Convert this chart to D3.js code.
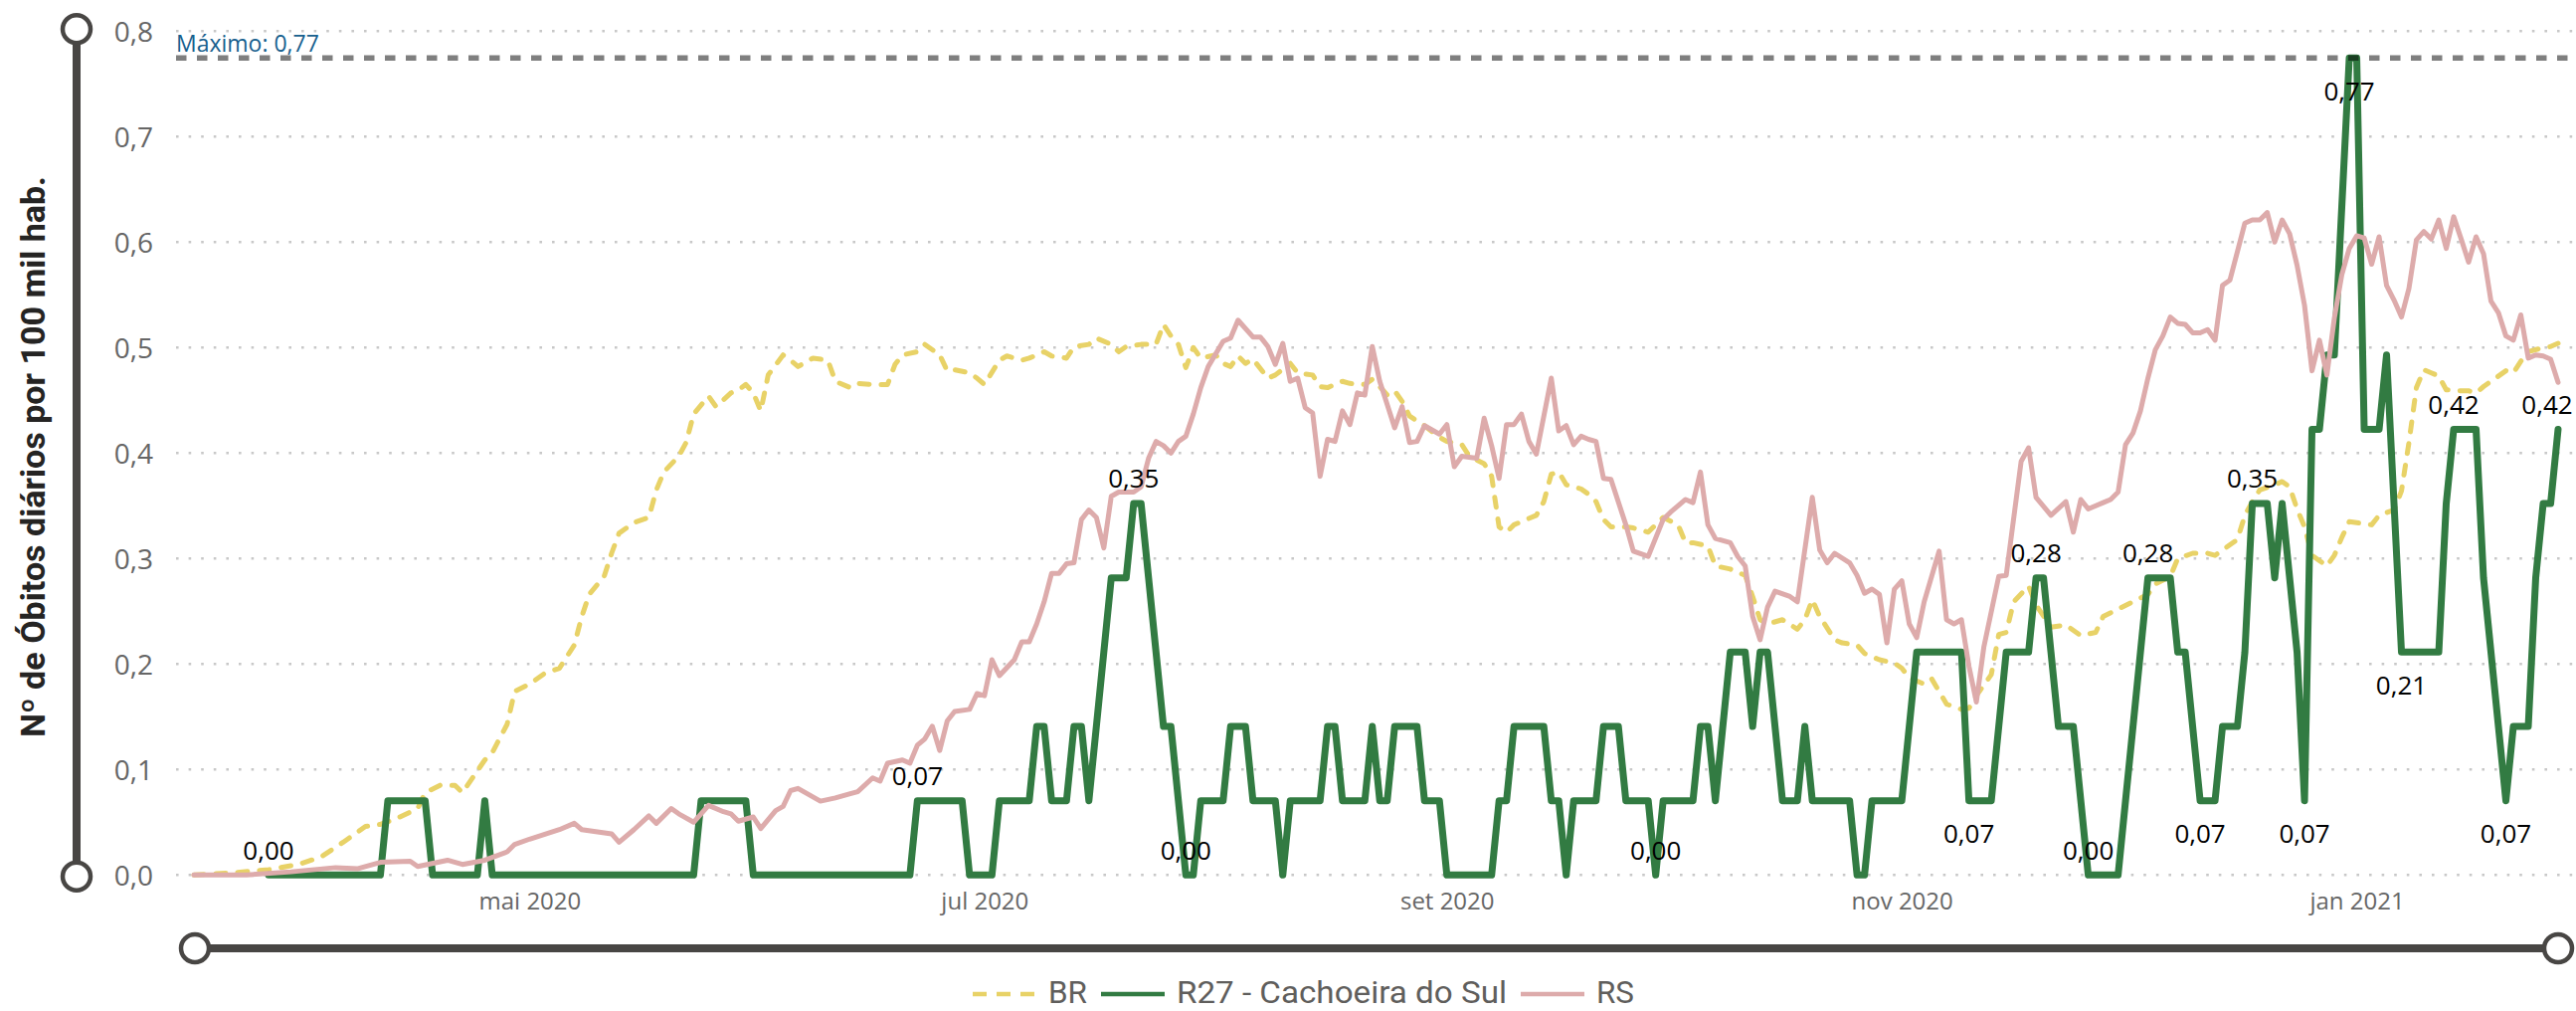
<!DOCTYPE html>
<html><head><meta charset="utf-8">
<script src="https://cdn.jsdelivr.net/npm/d3@7"></script>
<style>
html,body{margin:0;padding:0;background:#fff;}
svg{display:block;}
</style></head><body>
<svg id="chart" width="2590" height="1016"></svg>
<script>
// ---------------- DATA ----------------
const startDay = "2020-03-17";
const endDay = "2021-01-28";
const seriesNames = ["BR", "R27 - Cachoeira do Sul", "RS"];
const yTicks = [0, 0.1, 0.2, 0.3, 0.4, 0.5, 0.6, 0.7, 0.8];
const xTickDates = ["2020-05-01", "2020-07-01", "2020-09-01", "2020-11-01", "2021-01-01"];
const xTickLabels = ["mai 2020", "jul 2020", "set 2020", "nov 2020", "jan 2021"];
const yAxisTitle = "Nº de Óbitos diários por 100 mil hab.";
const maxLabelPrefix = "Máximo: ";

// R27 - Cachoeira do Sul: daily values, first value is day 10 after startDay
const r27FirstDay = 10;
const r27Values = [
0,0,0,0,0,0,0,0,0,0,
0,0,0,0,0,0,.0704,.0704,.0704,.0704,
.0704,.0704,0,0,0,0,0,0,0,.0704,
0,0,0,0,0,0,0,0,0,0,
0,0,0,0,0,0,0,0,0,0,
0,0,0,0,0,0,0,0,.0704,.0704,
.0704,.0704,.0704,.0704,.0704,0,0,0,0,0,
0,0,0,0,0,0,0,0,0,0,
0,0,0,0,0,0,0,.0704,.0704,.0704,
.0704,.0704,.0704,.0704,0,0,0,0,.0704,.0704,
.0704,.0704,.0704,.1408,.1408,.0704,.0704,.0704,.1408,.1408,
.0704,.1408,.2113,.2817,.2817,.2817,.3521,.3521,.2817,.2113,
.1408,.1408,.0704,0,0,.0704,.0704,.0704,.0704,.1408,
.1408,.1408,.0704,.0704,.0704,.0704,0,.0704,.0704,.0704,
.0704,.0704,.1408,.1408,.0704,.0704,.0704,.0704,.1408,.0704,
.0704,.1408,.1408,.1408,.1408,.0704,.0704,.0704,0,0,
0,0,0,0,0,.0704,.0704,.1408,.1408,.1408,
.1408,.1408,.0704,.0704,0,.0704,.0704,.0704,.0704,.1408,
.1408,.1408,.0704,.0704,.0704,.0704,0,.0704,.0704,.0704,
.0704,.0704,.1408,.1408,.0704,.1408,.2113,.2113,.2113,.1408,
.2113,.2113,.1408,.0704,.0704,.0704,.1408,.0704,.0704,.0704,
.0704,.0704,.0704,0,0,.0704,.0704,.0704,.0704,.0704,
.1408,.2113,.2113,.2113,.2113,.2113,.2113,.2113,.0704,.0704,
.0704,.0704,.1408,.2113,.2113,.2113,.2113,.2817,.2817,.2113,
.1408,.1408,.1408,.0704,0,0,0,0,0,.0704,
.1408,.2113,.2817,.2817,.2817,.2817,.2113,.2113,.1408,.0704,
.0704,.0704,.1408,.1408,.1408,.2113,.3521,.3521,.3521,.2817,
.3521,.2817,.2113,.0704,.4225,.4225,.493,.493,.6338,.7746,
.7746,.4225,.4225,.4225,.493,.3521,.2113,.2113,.2113,.2113,
.2113,.2113,.3521,.4225,.4225,.4225,.4225,.2817,.2113,.1408,
.0704,.1408,.1408,.1408,.2817,.3521,.3521,.4225
];

// RS: [day after startDay, value]
const rsPoints = [
[0,0],[7,0],[13,.003],[19,.007],[22,.006],[25,.012],[29,.013],[30,.008],[34,.014],[36,.010],
[39,.014],[42,.022],[43,.029],[45,.034],[49,.043],[51,.049],[52,.043],[56,.039],[57,.031],[59,.043],
[61,.056],[62,.049],[64,.063],[65,.058],[67,.050],[69,.066],[71,.060],[72,.058],[73,.051],[75,.055],
[76,.044],[78,.061],[79,.065],[80,.080],[81,.082],[84,.070],[86,.073],[88,.077],[89,.079],[91,.092],
[92,.089],[93,.106],[95,.109],[96,.106],[97,.123],[98,.129],[99,.141],[100,.118],[101,.146],[102,.155],
[104,.157],[105,.172],[106,.170],[107,.204],[108,.189],[110,.204],[111,.221],[112,.221],[113,.238],[114,.259],
[115,.286],[116,.286],[117,.295],[118,.296],[119,.337],[120,.346],[121,.339],[122,.310],[123,.359],[124,.363],
[126,.363],[127,.368],[128,.395],[129,.411],[130,.407],[131,.400],[132,.411],[133,.416],[134,.437],[135,.462],
[136,.482],[138,.506],[139,.509],[140,.526],[142,.510],[143,.510],[144,.501],[145,.484],[146,.504],[147,.468],
[148,.471],[149,.443],[150,.438],[151,.378],[152,.413],[153,.411],[154,.440],[155,.427],[156,.457],[157,.455],
[158,.501],[159,.468],[160,.446],[161,.424],[162,.444],[163,.410],[164,.411],[165,.426],[167,.418],[168,.427],
[169,.387],[170,.397],[172,.395],[173,.433],[174,.407],[175,.376],[176,.427],[177,.427],[178,.437],[179,.411],
[180,.399],[182,.471],[183,.421],[184,.426],[185,.408],[186,.416],[187,.413],[188,.411],[189,.376],[190,.375],
[192,.332],[193,.307],[195,.302],[197,.337],[198,.344],[200,.356],[201,.353],[202,.382],[203,.332],[204,.319],
[206,.315],[207,.302],[208,.293],[209,.245],[210,.223],[211,.254],[212,.269],[214,.264],[215,.259],[217,.358],
[218,.308],[219,.296],[220,.305],[222,.296],[223,.284],[224,.267],[225,.271],[226,.266],[227,.220],[228,.271],
[229,.279],[230,.238],[231,.225],[232,.259],[234,.307],[235,.242],[236,.238],[237,.242],[238,.198],[239,.164],
[240,.216],[242,.283],[243,.284],[245,.392],[246,.405],[247,.358],[249,.341],[251,.354],[252,.325],[253,.356],
[254,.347],[256,.353],[257,.356],[258,.363],[259,.408],[260,.419],[261,.440],[262,.471],[263,.498],[264,.511],
[265,.529],[266,.523],[267,.522],[268,.514],[269,.514],[270,.517],[271,.507],[272,.559],[273,.564],[274,.591],
[275,.618],[276,.621],[277,.621],[278,.628],[279,.600],[280,.621],[281,.608],[282,.578],[283,.540],[284,.478],
[285,.507],[286,.474],[287,.528],[288,.569],[289,.594],[290,.606],[291,.604],[292,.579],[293,.605],[294,.559],
[295,.545],[296,.529],[297,.556],[298,.602],[299,.610],[300,.603],[301,.621],[302,.594],[303,.624],[304,.603],
[305,.581],[306,.605],[307,.589],[308,.544],[309,.533],[310,.511],[311,.507],[312,.531],[313,.490],[314,.493],
[315,.492],[316,.489],[317,.467]
];

// BR: [day after startDay, value]
const brPoints = [
[0,0],[5,.002],[10,.005],[14,.010],[17,.017],[20,.031],[23,.046],[25,.048],[27,.053],[30,.063],
[31,.078],[33,.085],[35,.085],[36,.078],[39,.109],[40,.116],[42,.143],[43,.174],[45,.181],[47,.191],
[49,.196],[51,.218],[52,.245],[53,.266],[55,.283],[56,.305],[57,.324],[59,.334],[61,.339],[62,.365],
[63,.382],[65,.397],[66,.410],[67,.437],[69,.454],[70,.444],[72,.457],[73,.460],[74,.465],[75,.457],
[76,.440],[77,.474],[79,.493],[80,.488],[81,.482],[83,.490],[85,.488],[86,.468],[88,.462],[89,.466],
[91,.465],[93,.465],[94,.484],[95,.493],[97,.496],[98,.503],[100,.493],[101,.478],[102,.479],[104,.476],
[105,.471],[106,.465],[108,.488],[109,.492],[111,.488],[112,.490],[114,.496],[115,.492],[117,.490],[118,.501],
[120,.503],[121,.509],[123,.503],[124,.496],[125,.501],[127,.503],[129,.503],[130,.522],[131,.511],[132,.503],
[133,.481],[134,.500],[135,.490],[137,.493],[138,.485],[139,.482],[140,.492],[141,.485],[142,.489],[144,.471],
[145,.474],[147,.485],[148,.476],[150,.474],[151,.463],[152,.462],[154,.468],[155,.466],[157,.465],[158,.470],
[159,.463],[160,.455],[161,.459],[162,.449],[163,.435],[165,.426],[167,.415],[168,.411],[170,.408],[171,.397],
[173,.390],[174,.378],[175,.330],[176,.325],[177,.332],[180,.341],[181,.354],[182,.380],[183,.382],[184,.370],
[186,.366],[187,.361],[188,.354],[189,.337],[190,.330],[192,.330],[193,.329],[195,.325],[196,.332],[197,.339],
[199,.332],[200,.315],[201,.315],[203,.312],[204,.293],[206,.290],[208,.284],[209,.264],[210,.242],[211,.238],
[213,.242],[215,.233],[216,.242],[217,.261],[218,.245],[220,.223],[221,.220],[223,.218],[224,.210],[226,.204],
[228,.201],[229,.196],[230,.187],[232,.181],[233,.186],[234,.174],[235,.162],[237,.157],[238,.158],[239,.170],
[241,.190],[242,.228],[243,.230],[244,.259],[246,.274],[247,.256],[249,.235],[251,.237],[253,.227],[255,.230],
[256,.245],[258,.252],[260,.259],[262,.266],[263,.276],[265,.283],[266,.300],[268,.305],[270,.305],[271,.303],
[272,.308],[274,.318],[275,.341],[276,.354],[277,.365],[279,.370],[280,.373],[281,.368],[282,.347],[283,.330],
[284,.303],[285,.298],[286,.293],[287,.303],[288,.320],[289,.335],[290,.334],[292,.332],[293,.341],[295,.346],
[296,.364],[297,.410],[298,.462],[299,.479],[300,.476],[301,.473],[302,.460],[304,.459],[305,.459],[306,.457],
[307,.463],[308,.468],[310,.478],[311,.476],[312,.487],[313,.496],[315,.500],[316,.501],[317,.504]
];

// days (after startDay) of the R27 points that carry a data label
const labelDaysAbove = [10, 97, 126, 133, 196, 247, 254, 262, 276, 303, 317];
const labelDaysBelow = [238, 269, 283, 289, 296, 310];

// ---------------- CHART ----------------
const W = 2590, H = 1016;
const plotLeft = 177, plotRight = 2590;
const colors = {BR: "#E8D267", R27: "#327B42", RS: "#DDABAB"};
const axisDark = "#484644";

const locale = d3.formatLocale({decimal: ",", thousands: ".", grouping: [3], currency: ["R$", ""]});
const fmt1 = locale.format(".1f");
const fmt2 = locale.format(".2f");

const parse = d3.utcParse("%Y-%m-%d");
const t0 = parse(startDay);
const dayDate = i => d3.utcDay.offset(t0, i);

const x = d3.scaleUtc().domain([t0, parse(endDay)]).range([195, 2572]);
const y = d3.scaleLinear().domain([0, 0.8]).range([879.3, 31.3]);

const svg = d3.select("#chart");
svg.append("rect").attr("width", W).attr("height", H).attr("fill", "#fff");

// gridlines
svg.append("g").selectAll("line").data(yTicks).join("line")
  .attr("x1", plotLeft).attr("x2", plotRight)
  .attr("y1", d => y(d)).attr("y2", d => y(d))
  .attr("stroke", "#c8c8c8").attr("stroke-width", 2.6)
  .attr("stroke-dasharray", "2.6 10");

// y axis
const gy = svg.append("g").attr("transform", `translate(${plotLeft},0)`)
  .call(d3.axisLeft(y).tickValues(yTicks).tickFormat(fmt1).tickSize(0).tickPadding(23));
gy.select(".domain").remove();
gy.selectAll("text").attr("font-family", "'Open Sans', sans-serif").attr("font-size", 28)
  .attr("fill", "#666").attr("dy", "0.36em");

// x axis
const gx = svg.append("g").attr("transform", `translate(0,${y(0)})`)
  .call(d3.axisBottom(x).tickValues(xTickDates.map(parse))
    .tickFormat((d, i) => xTickLabels[i]).tickSize(0).tickPadding(18));
gx.select(".domain").remove();
gx.selectAll("text").attr("font-family", "'Open Sans', sans-serif").attr("font-size", 24)
  .attr("fill", "#666");

// y axis title
svg.append("text")
  .attr("transform", `translate(45,459) rotate(-90)`)
  .attr("text-anchor", "middle")
  .attr("font-family", "Roboto, sans-serif").attr("font-weight", 700).attr("font-size", 33)
  .attr("fill", "#252423")
  .attr("textLength", 564).attr("lengthAdjust", "spacingAndGlyphs")
  .text(yAxisTitle);

// series
const line = d3.line().x(d => x(d.date)).y(d => y(d.value));
const brData = brPoints.map(([d, v]) => ({date: dayDate(d), value: v}));
const rsData = rsPoints.map(([d, v]) => ({date: dayDate(d), value: v}));
const r27Data = r27Values.map((v, k) => ({date: dayDate(r27FirstDay + k), value: v}));

svg.append("path").datum(brData).attr("d", line).attr("fill", "none")
  .attr("stroke", colors.BR).attr("stroke-width", 5).attr("stroke-linecap", "round")
  .attr("stroke-linejoin", "round").attr("stroke-dasharray", "10 12");
svg.append("path").datum(r27Data).attr("d", line).attr("fill", "none")
  .attr("stroke", colors.R27).attr("stroke-width", 7).attr("stroke-linejoin", "round")
  .attr("stroke-linecap", "round");
svg.append("path").datum(rsData).attr("d", line).attr("fill", "none")
  .attr("stroke", colors.RS).attr("stroke-width", 5).attr("stroke-linejoin", "round")
  .attr("stroke-linecap", "round");

// max line
const maxV = d3.max(r27Values);
svg.append("line").attr("x1", plotLeft).attr("x2", plotRight)
  .attr("y1", y(maxV)).attr("y2", y(maxV))
  .attr("stroke", "#000").attr("stroke-opacity", 0.5).attr("stroke-width", 5.5)
  .attr("stroke-dasharray", "10.5 10.5");
svg.append("text").attr("x", plotLeft).attr("y", y(maxV) - 6)
  .attr("font-family", "'Open Sans', sans-serif").attr("font-size", 23)
  .attr("fill", "#17608E")
  .text(maxLabelPrefix + fmt2(maxV));

// data labels
const labelData = labelDaysAbove.map(d => ({d, pos: "above"}))
  .concat(labelDaysBelow.map(d => ({d, pos: "below"})))
  .map(o => ({...o, value: r27Values[o.d - r27FirstDay]}));
svg.append("g").selectAll("text").data(labelData).join("text")
  .attr("x", o => Math.min(x(dayDate(o.d)), plotRight - 29))
  .attr("y", o => y(o.value) + (o.pos === "above" ? -25 : 33))
  .attr("dy", "0.36em")
  .attr("text-anchor", "middle")
  .attr("font-family", "'Open Sans', sans-serif").attr("font-size", 26)
  .attr("fill", "#000")
  .text(o => fmt2(o.value));

// sliders (y and x zoom bars)
const [yb, yt] = y.range();
const ySl = svg.append("g");
ySl.append("line").attr("x1", 77).attr("x2", 77).attr("y1", yt - 2).attr("y2", yb + 1.5)
  .attr("stroke", axisDark).attr("stroke-width", 8);
ySl.selectAll("circle").data([yt - 2, yb + 1.5]).join("circle")
  .attr("cx", 77).attr("cy", d => d).attr("r", 14)
  .attr("fill", "#fff").attr("stroke", axisDark).attr("stroke-width", 4.5);

const [xl, xr] = x.range();
const xSl = svg.append("g");
xSl.append("line").attr("x1", xl).attr("x2", xr).attr("y1", 953).attr("y2", 953)
  .attr("stroke", axisDark).attr("stroke-width", 8);
xSl.selectAll("circle").data([xl + 1, xr]).join("circle")
  .attr("cx", d => d).attr("cy", 953).attr("r", 14)
  .attr("fill", "#fff").attr("stroke", axisDark).attr("stroke-width", 4.5);

// legend
const legendY = 999;
const legendItems = [
  {name: seriesNames[0], color: colors.BR, dash: "14 10", w: 39},
  {name: seriesNames[1], color: colors.R27, dash: null, w: 332},
  {name: seriesNames[2], color: colors.RS, dash: null, w: 38}
];
const lg = svg.append("g");
let lx = 978;
legendItems.forEach(it => {
  lg.append("line").attr("x1", lx).attr("x2", lx + 64).attr("y1", legendY).attr("y2", legendY)
    .attr("stroke", it.color).attr("stroke-width", 4.5)
    .attr("stroke-dasharray", it.dash);
  lx += 64 + 12;
  lg.append("text").attr("x", lx).attr("y", legendY + 9)
    .attr("font-family", "Roboto, sans-serif").attr("font-size", 31)
    .attr("fill", "#605E5C")
    .attr("textLength", it.w).attr("lengthAdjust", "spacingAndGlyphs")
    .text(it.name);
  lx += it.w + 14;
});
</script>
</body></html>
